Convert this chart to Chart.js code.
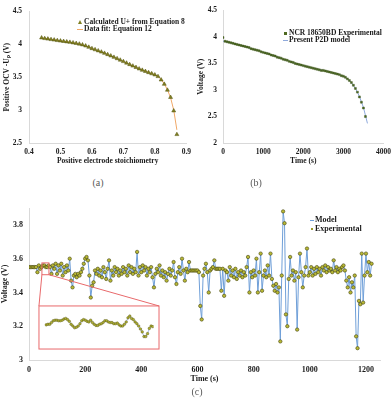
<!DOCTYPE html>
<html>
<head>
<meta charset="utf-8">
<script src="https://cdn.jsdelivr.net/npm/chart.js@4.4.0/dist/chart.umd.min.js"></script>
<style>
    html, body { margin: 0; padding: 0; background: #fff; }
    body { width: 392px; height: 399px; position: relative; overflow: hidden; font-family: "Liberation Serif", serif; }
    .pane { position: absolute; }
    .legend { position: absolute; font-weight: bold; font-size: 7.5px; line-height: 8px; color: #1a1a1a; white-space: nowrap; }
    .big { font-size: 8px; }
    .sym { position: absolute; }
    .caption { position: absolute; font-size: 10px; line-height: 10px; color: #5a5a5a; transform: translateX(-50%); }
</style>
</head>
<body>

<div class="pane" style="left:0; top:0;"><canvas id="ocvChart" width="196" height="166"></canvas></div>
<div class="pane" style="left:196px; top:0;"><canvas id="dischargeChart" width="200" height="166"></canvas></div>
<div class="pane" style="left:0; top:195px;"><canvas id="driveChart" width="392" height="189"></canvas></div>
<div class="pane" id="insetBox"><canvas id="insetChart"></canvas></div>

<!-- legends -->
<div class="sym" style="left:78px; top:20px; width:0; height:0; border-left:2px solid transparent; border-right:2px solid transparent; border-bottom:4px solid #7f7f20;"></div>
<div class="legend" style="left:84px; top:18px;">Calculated U+ from Equation 8</div>
<div class="sym" style="left:77px; top:28.5px; width:6px; height:1px; background:#f0a868;"></div>
<div class="legend" style="left:84px; top:25px;">Data fit: Equation 12</div>

<div class="sym" style="left:283.5px; top:31.5px; width:3px; height:3px; background:#4f6a22;"></div>
<div class="legend" style="left:289px; top:29px;">NCR 18650BD Experimental</div>
<div class="sym" style="left:283px; top:39.5px; width:5px; height:1px; background:#8faadc;"></div>
<div class="legend" style="left:289px; top:36px;">Present P2D model</div>

<div class="sym" style="left:310px; top:219.5px; width:4px; height:1px; background:#6f9fd8;"></div>
<div class="legend big" style="left:315px; top:215.5px;">Model</div>
<div class="sym" style="left:311px; top:227.5px; width:2px; height:2px; background:#9a9a2a;"></div>
<div class="legend big" style="left:315px; top:224.5px;">Experimental</div>

<div class="caption" style="left:98px; top:178px;">(a)</div>
<div class="caption" style="left:256px; top:178px;">(b)</div>
<div class="caption" style="left:197px; top:387px;">(c)</div>

<script>
// (a) positive electrode OCV vs stoichiometry
const stoich = [0.44, 0.45, 0.46, 0.47, 0.48, 0.49, 0.50, 0.51, 0.52, 0.53, 0.54,
    0.55, 0.56, 0.57, 0.58, 0.59, 0.60, 0.61, 0.62, 0.63, 0.64, 0.65, 0.66, 0.67,
    0.68, 0.69, 0.70, 0.71, 0.72, 0.73, 0.74, 0.75, 0.76, 0.77, 0.78, 0.79, 0.80,
    0.81, 0.82, 0.83, 0.84, 0.85, 0.86, 0.87];
const ocvCalc = [4.100, 4.090, 4.083, 4.075, 4.068, 4.060, 4.053, 4.046, 4.040, 4.033, 4.025,
    4.016, 4.006, 3.994, 3.978, 3.958, 3.937, 3.920, 3.903, 3.885, 3.866, 3.846, 3.826, 3.805,
    3.784, 3.762, 3.740, 3.717, 3.694, 3.672, 3.650, 3.628, 3.608, 3.590, 3.572, 3.555, 3.537,
    3.512, 3.460, 3.395, 3.305, 3.195, 2.990, 2.630];
const ocvFit = [4.098, 4.091, 4.084, 4.076, 4.069, 4.061, 4.054, 4.047, 4.040, 4.032, 4.024,
    4.015, 4.004, 3.992, 3.977, 3.958, 3.938, 3.920, 3.902, 3.884, 3.865, 3.845, 3.825, 3.804,
    3.783, 3.761, 3.739, 3.716, 3.694, 3.672, 3.651, 3.630, 3.610, 3.592, 3.574, 3.557, 3.540,
    3.515, 3.465, 3.400, 3.310, 3.190, 3.000, 2.700];

// (b) constant current discharge, sampled every 50 s (exp) and 100 s (model)
const expStep = 50;
const dischargeExp = [3.99, 3.92, 3.91, 3.90, 3.89, 3.88, 3.87, 3.86, 3.85, 3.84,
    3.83, 3.82, 3.81, 3.80, 3.78, 3.77, 3.76, 3.75, 3.74, 3.72,
    3.71, 3.70, 3.69, 3.68, 3.66, 3.65, 3.64, 3.62, 3.61, 3.60,
    3.58, 3.57, 3.56, 3.54, 3.53, 3.52, 3.50, 3.49, 3.48, 3.47,
    3.46, 3.45, 3.44, 3.43, 3.42, 3.41, 3.40, 3.39, 3.38, 3.37,
    3.37, 3.36, 3.35, 3.34, 3.33, 3.32, 3.31, 3.30, 3.29, 3.27,
    3.26, 3.24, 3.21, 3.18, 3.14, 3.09, 3.03, 2.96, 2.87, 2.77,
    2.66, 2.50];
const modelStep = 100;
const dischargeModel = [3.92, 3.91, 3.89, 3.87, 3.85, 3.83, 3.81, 3.78, 3.76, 3.74,
    3.71, 3.69, 3.66, 3.64, 3.61, 3.58, 3.56, 3.53, 3.50, 3.48,
    3.46, 3.44, 3.42, 3.40, 3.38, 3.37, 3.35, 3.33, 3.31, 3.29,
    3.26, 3.21, 3.14, 3.03, 2.88, 2.67, 2.37];

// (c) dynamic drive cycle, sampled every 5 s
const driveStep = 5;
const driveExp = [
    3.55, 3.55, 3.55, 3.55, 3.55, 3.55, 3.52, 3.56, 3.54, 3.55, 3.56, 3.56, 3.55, 3.55, 3.56, 3.55, 3.51, 3.56, 3.54, 3.57,
    3.51, 3.56, 3.53, 3.57, 3.50, 3.55, 3.52, 3.56, 3.53, 3.60, 3.47, 3.43, 3.50, 3.51, 3.49, 3.51, 3.50, 3.52, 3.54, 3.57,
    3.60, 3.61, 3.59, 3.50, 3.37, 3.44, 3.46, 3.53, 3.51, 3.54, 3.50, 3.53, 3.49, 3.55, 3.52, 3.48, 3.54, 3.59, 3.47, 3.53,
    3.50, 3.55, 3.52, 3.54, 3.50, 3.53, 3.51, 3.55, 3.52, 3.54, 3.50, 3.56, 3.52, 3.55, 3.51, 3.54, 3.52, 3.64, 3.50, 3.55,
    3.52, 3.56, 3.53, 3.55, 3.50, 3.54, 3.52, 3.55, 3.49, 3.43, 3.51, 3.54, 3.52, 3.56, 3.50, 3.53, 3.49, 3.52, 3.47, 3.51,
    3.54, 3.50, 3.53, 3.58, 3.49, 3.45, 3.52, 3.55, 3.51, 3.60, 3.53, 3.47, 3.54, 3.52, 3.58, 3.53, 3.53, 3.53, 3.53, 3.53,
    3.53, 3.52, 3.32, 3.24, 3.50, 3.54, 3.57, 3.52, 3.40, 3.53, 3.54, 3.55, 3.59, 3.54, 3.54, 3.54, 3.54, 3.41, 3.54, 3.38,
    3.53, 3.52, 3.47, 3.55, 3.50, 3.53, 3.49, 3.54, 3.48, 3.52, 3.50, 3.53, 3.49, 3.52, 3.50, 3.55, 3.61, 3.40, 3.52, 3.49,
    3.53, 3.50, 3.60, 3.40, 3.52, 3.63, 3.41, 3.50, 3.53, 3.49, 3.56, 3.50, 3.63, 3.48, 3.44, 3.41, 3.45, 3.40, 3.43, 3.11,
    3.50, 3.88, 3.81, 3.27, 3.20, 3.48, 3.61, 3.50, 3.53, 3.47, 3.52, 3.18, 3.49, 3.63, 3.52, 3.43, 3.50, 3.55, 3.66, 3.50,
    3.52, 3.55, 3.50, 3.54, 3.51, 3.55, 3.52, 3.54, 3.50, 3.55, 3.53, 3.56, 3.52, 3.55, 3.53, 3.54, 3.52, 3.59, 3.53, 3.55,
    3.52, 3.54, 3.53, 3.55, 3.56, 3.53, 3.47, 3.43, 3.49, 3.40, 3.46, 3.43, 3.50, 3.14, 3.07, 3.35, 3.33, 3.63, 3.34, 3.50,
    3.63, 3.52, 3.58, 3.50, 3.57
];
// model and experiment overlap at this scale
const driveModel = driveExp.slice();

// (c) inset: zoom of 45-75 s, sampled every 0.5 s
const insetStart = 45;
const insetStep = 0.5;
const insetExp = [3.552, 3.553, 3.553, 3.556, 3.559, 3.560, 3.560, 3.559, 3.559, 3.560,
    3.562, 3.563, 3.561, 3.558, 3.553, 3.550, 3.547, 3.548, 3.550, 3.554,
    3.559, 3.561, 3.560, 3.558, 3.557, 3.560, 3.556, 3.553, 3.551, 3.551,
    3.553, 3.554, 3.556, 3.559, 3.559, 3.557, 3.556, 3.556, 3.554, 3.554,
    3.555, 3.552, 3.550, 3.550, 3.553, 3.557, 3.564, 3.567, 3.563, 3.561,
    3.557, 3.554, 3.550, 3.545, 3.540, 3.532, 3.532, 3.537, 3.546, 3.550, 3.549];

// zoom marker rectangles in (c), in data units
const zoomT = [46, 71];
const zoomV = [3.505, 3.575];
const insetT = [35.5, 463];
const insetV = [3.065, 3.32];

const ink = '#1a1a1a';
const axisLine = '#d9d9d9';
const boldSerif = (size) => ({ family: 'Liberation Serif', size: size, weight: 'bold' });
const cleanNum = (v) => String(Math.round(v * 100) / 100);
const toPoints = (xs, ys) => ys.map((y, i) => ({ x: xs[i], y: y }));
const sampled = (ys, step, start = 0) => ys.map((y, i) => ({ x: start + i * step, y: y }));

const figure = {
    init: () => {
        Chart.defaults.animation = false;
        figure.charts = {
            ocv: figure.buildOcv(),
            discharge: figure.buildDischarge(),
            drive: figure.buildDrive()
        };
        figure.buildInset(figure.charts.drive);
    },

    // shared axis setup with fixed box sizes so plot areas line up with the figure
    axis: (o) => ({
        type: 'linear',
        min: o.min,
        max: o.max,
        afterFit: (scale) => {
            if (o.width) scale.width = o.width;
            if (o.height) scale.height = o.height;
        },
        grid: { display: false, drawTicks: false },
        border: { display: true, color: axisLine, width: 1 },
        ticks: {
            stepSize: o.step,
            includeBounds: false,
            padding: o.pad,
            color: ink,
            font: boldSerif(o.size),
            callback: cleanNum
        },
        title: {
            display: true,
            text: o.title,
            color: ink,
            font: boldSerif(o.size),
            padding: o.titlePad
        }
    }),

    baseOptions: (padding, scales) => ({
        responsive: false,
        devicePixelRatio: 1,
        animation: false,
        layout: { padding: padding },
        plugins: { legend: { display: false }, tooltip: { enabled: false } },
        scales: scales
    }),

    buildOcv: () => new Chart(document.getElementById('ocvChart'), {
        type: 'scatter',
        data: {
            datasets: [
                {
                    label: 'Calculated U+ from Equation 8',
                    data: toPoints(stoich, ocvCalc),
                    pointStyle: 'triangle',
                    pointRadius: 2.3,
                    backgroundColor: '#7f7f20',
                    borderColor: '#55550f',
                    borderWidth: 0.5,
                    order: 0
                },
                {
                    label: 'Data fit: Equation 12',
                    data: toPoints(stoich, ocvFit),
                    showLine: true,
                    pointRadius: 0,
                    borderColor: '#f0a868',
                    borderWidth: 1,
                    order: 1
                }
            ]
        },
        options: figure.baseOptions({ top: 7, right: 6, left: 0, bottom: 0 }, {
            x: figure.axis({ min: 0.4, max: 0.9, step: 0.1, pad: 5, size: 7.5, height: 23,
                title: 'Positive electrode stoichiometry', titlePad: { top: 0, bottom: 0.5 } }),
            y: figure.axis({ min: 2.5, max: 4.5, step: 0.5, pad: 7, size: 7.5, width: 29,
                title: 'Positive OCV -U\u209A (V)', titlePad: { top: 3, bottom: 0 } })
        })
    }),

    buildDischarge: () => new Chart(document.getElementById('dischargeChart'), {
        type: 'scatter',
        data: {
            datasets: [
                {
                    label: 'NCR 18650BD Experimental',
                    data: sampled(dischargeExp, expStep),
                    pointStyle: 'rect',
                    pointRadius: 1.4,
                    backgroundColor: '#4f6a22',
                    borderColor: '#3b5018',
                    borderWidth: 0.4,
                    order: 0
                },
                {
                    label: 'Present P2D model',
                    data: sampled(dischargeModel, modelStep),
                    showLine: true,
                    pointRadius: 0,
                    borderColor: '#8faadc',
                    borderWidth: 1,
                    order: 1
                }
            ]
        },
        options: figure.baseOptions({ top: 7, right: 10, left: 0, bottom: 0 }, {
            x: figure.axis({ min: 0, max: 4000, step: 1000, pad: 5, size: 7.5, height: 23,
                title: 'Time (s)', titlePad: { top: 0, bottom: 0.5 } }),
            y: figure.axis({ min: 2, max: 4.5, step: 0.5, pad: 6, size: 7.5, width: 27,
                title: 'Voltage (V)', titlePad: { top: 0.5, bottom: 0 } })
        })
    }),

    // red zoom box, inset frame and the two connecting lines
    zoomMarks: {
        id: 'zoomMarks',
        afterDatasetsDraw: (chart) => {
            const { ctx, scales: { x, y } } = chart;
            const sx0 = x.getPixelForValue(zoomT[0]), sx1 = x.getPixelForValue(zoomT[1]);
            const sy0 = y.getPixelForValue(zoomV[1]), sy1 = y.getPixelForValue(zoomV[0]);
            const bx0 = x.getPixelForValue(insetT[0]), bx1 = x.getPixelForValue(insetT[1]);
            const by0 = y.getPixelForValue(insetV[1]), by1 = y.getPixelForValue(insetV[0]);
            ctx.save();
            ctx.strokeStyle = '#e8696b';
            ctx.lineWidth = 1;
            ctx.fillStyle = '#fff';
            ctx.fillRect(bx0, by0, bx1 - bx0, by1 - by0);
            ctx.strokeRect(sx0, sy0, sx1 - sx0, sy1 - sy0);
            ctx.strokeRect(bx0, by0, bx1 - bx0, by1 - by0);
            ctx.beginPath();
            ctx.moveTo(sx0, sy1);
            ctx.lineTo(bx0, by0);
            ctx.moveTo(sx1, sy1);
            ctx.lineTo(bx1, by0);
            ctx.stroke();
            ctx.restore();
        }
    },

    buildDrive: () => new Chart(document.getElementById('driveChart'), {
        type: 'scatter',
        data: {
            datasets: [
                {
                    label: 'Experimental',
                    data: sampled(driveExp, driveStep),
                    pointRadius: 1.7,
                    backgroundColor: '#b9b935',
                    borderColor: '#44440f',
                    borderWidth: 0.6,
                    order: 0
                },
                {
                    label: 'Model',
                    data: sampled(driveModel, driveStep),
                    showLine: true,
                    pointRadius: 0,
                    borderColor: '#6f9fd8',
                    borderWidth: 1,
                    order: 1
                }
            ]
        },
        options: figure.baseOptions({ top: 13, right: 12, left: 0, bottom: 0 }, {
            x: figure.axis({ min: 0, max: 1250, step: 200, pad: 5, size: 8, height: 24,
                title: 'Time (s)', titlePad: { top: 0, bottom: 0.2 } }),
            y: figure.axis({ min: 3, max: 3.9, step: 0.2, pad: 6, size: 8, width: 29,
                title: 'Voltage (V)', titlePad: { top: 0.5, bottom: 0 } })
        }),
        plugins: [figure.zoomMarks]
    }),

    buildInset: (drive) => {
        const { x, y } = drive.scales;
        const left = x.getPixelForValue(insetT[0]);
        const top = y.getPixelForValue(insetV[1]);
        const w = Math.round(x.getPixelForValue(insetT[1]) - left) - 2;
        const h = Math.round(y.getPixelForValue(insetV[0]) - top) - 2;
        const box = document.getElementById('insetBox');
        box.style.left = (Math.round(left) + 1) + 'px';
        box.style.top = (195 + Math.round(top) + 1) + 'px';
        const canvas = document.getElementById('insetChart');
        canvas.width = w;
        canvas.height = h;

        const hidden = (min, max) => ({ type: 'linear', display: false, min: min, max: max });
        return new Chart(canvas, {
            type: 'scatter',
            data: {
                datasets: [
                    {
                        data: sampled(insetExp, insetStep, insetStart),
                        pointRadius: 1.3,
                        backgroundColor: '#b0b030',
                        borderColor: '#4b4b14',
                        borderWidth: 0.4,
                        order: 0
                    },
                    {
                        data: sampled(insetExp, insetStep, insetStart),
                        showLine: true,
                        pointRadius: 0,
                        borderColor: '#8faadc',
                        borderWidth: 0.8,
                        order: 1
                    }
                ]
            },
            options: figure.baseOptions(0, {
                x: hidden(44.5, 75.2),
                y: hidden(3.52, 3.575)
            })
        });
    }
};

document.addEventListener('DOMContentLoaded', () => {
    figure.init();
});
</script>
</body>
</html>
